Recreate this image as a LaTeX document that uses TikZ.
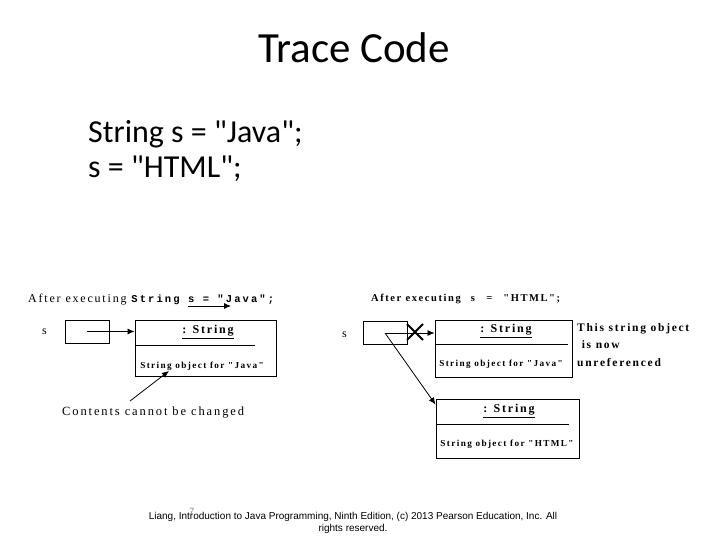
\documentclass[tikz,border=0pt]{standalone}
\usepackage{fontspec}
\setmainfont{Carlito}[Ligatures=TeXOff]
\newfontfamily\diagfont[LetterSpace=15,Ligatures=TeXOff]{Liberation Serif}
\newfontfamily\codefont[LetterSpace=20,Ligatures=TeXOff]{Liberation Mono}
\newfontfamily\footfont{Liberation Sans}
\usetikzlibrary{arrows,arrows.meta,positioning,shapes.misc}

\begin{document}
\begin{tikzpicture}[
    x=1pt, y=-1pt,
    refbox/.style={rectangle, draw, line width=0.8pt, minimum width=44pt, minimum height=23pt, inner sep=0pt},
    objbox/.style={rectangle, draw, line width=1pt, inner sep=0pt},
    hdr/.style={font=\diagfont\bfseries\fontsize{12}{14}\selectfont, inner sep=0pt},
    obj/.style={font=\diagfont\bfseries\fontsize{9.2}{11}\selectfont, anchor=base, inner sep=0pt},
    note/.style={font=\diagfont\fontsize{12}{14}\selectfont, anchor=base west, inner sep=0pt},
    ptr/.style={draw, line width=0.8pt, -{Latex[length=7pt,width=6pt]}}
]
\useasboundingbox[fill=white] (0,0) rectangle (720,540);

% Title and code
\node[font=\fontsize{43}{50}\selectfont, anchor=base] (title) at (354,63) {Trace Code};
\node[font=\fontsize{32}{38}\selectfont, anchor=base west, inner sep=0pt] (line1) at (88,143) {String s = "Java";};
\node[font=\fontsize{32}{38}\selectfont, anchor=base west, inner sep=0pt] (line2) at (88,178) {s = "HTML";};

% Left: after String s = "Java";
\node[note] (headL) at (28,302) {After executing {\codefont\bfseries\fontsize{10.5}{12}\selectfont String s = "Java";}};
\coordinate (arrA) at (188,306);
\coordinate (arrB) at (231,306);
\node[note] (nameL) at (42,334) {s};
\node[refbox] (refL) at (87,331.5) {};
\node[objbox, minimum width=141pt, minimum height=56pt] (strL) at (205.5,348.5) {};
\node[hdr] (hdrL) at (208,332) {\underline{: String}};
\coordinate (divL) at (255,345);
\node[obj] (txtL) at (202,368) {String object for "Java"};
\node[note, font=\diagfont\fontsize{12.5}{14}\selectfont] (contL) at (62,415) {Contents cannot be changed};
\coordinate (chgA) at (130,401);
\coordinate (chgB) at (169,371);

% Right: after s = "HTML";
\node[note, font=\diagfont\bfseries\fontsize{10.5}{14}\selectfont] (headR) at (371,301) {After executing\hspace{6pt} s\hspace{7pt} =\hspace{7pt} "HTML";};
\node[note] (nameR) at (342,337) {s};
\node[refbox] (refR) at (385,333) {};
\node[objbox, minimum width=137pt, minimum height=57pt] (strJ) at (503.5,348.5) {};
\node[hdr] (hdrJ) at (506,331) {\underline{: String}};
\coordinate (divJ) at (568,344);
\node[obj] (txtJ) at (501,366) {String object for "Java"};
\node[cross out, draw, line width=2pt, minimum size=14pt, inner sep=0pt] (xm) at (415,332) {};
\node[note, font=\diagfont\bfseries\fontsize{11.5}{17.5}\selectfont, align=left, anchor=north west] (unref) at (577,323) {This string object\\ \ is now\\unreferenced};
\node[objbox, minimum width=143pt, minimum height=59pt] (strH) at (507.5,428.5) {};
\node[hdr] (hdrH) at (509,411) {\underline{: String}};
\coordinate (divH) at (569,424);
\node[obj] (txtH) at (507,446) {String object for "HTML"};

% Footer
\node[font=\footfont\fontsize{10}{12}\selectfont, align=center, anchor=north] (foot) at (353,509) {Liang, Introduction to Java Programming, Ninth Edition, (c) 2013 Pearson Education, Inc. All\\rights reserved.};
\node[font=\footfont\fontsize{9}{10}\selectfont, text=gray, anchor=base] (pgno) at (192,514) {7};

% Connectors
\draw[ptr] (arrA) -- (arrB);
\draw[line width=1pt] (strL.west |- divL) -- (divL);
\draw[ptr] (refL.center) -- (strL.west |- refL.center);
\draw[ptr] (chgA) -- (chgB);
\draw[line width=1pt] (strJ.west |- divJ) -- (divJ);
\draw[line width=1pt] (strH.west |- divH) -- (divH);
\draw[ptr] (refR.center) -- (strJ.west |- refR.center);
\draw[ptr] (refR.center) -- ([yshift=-6pt]strH.north west);
\end{tikzpicture}
\end{document}
